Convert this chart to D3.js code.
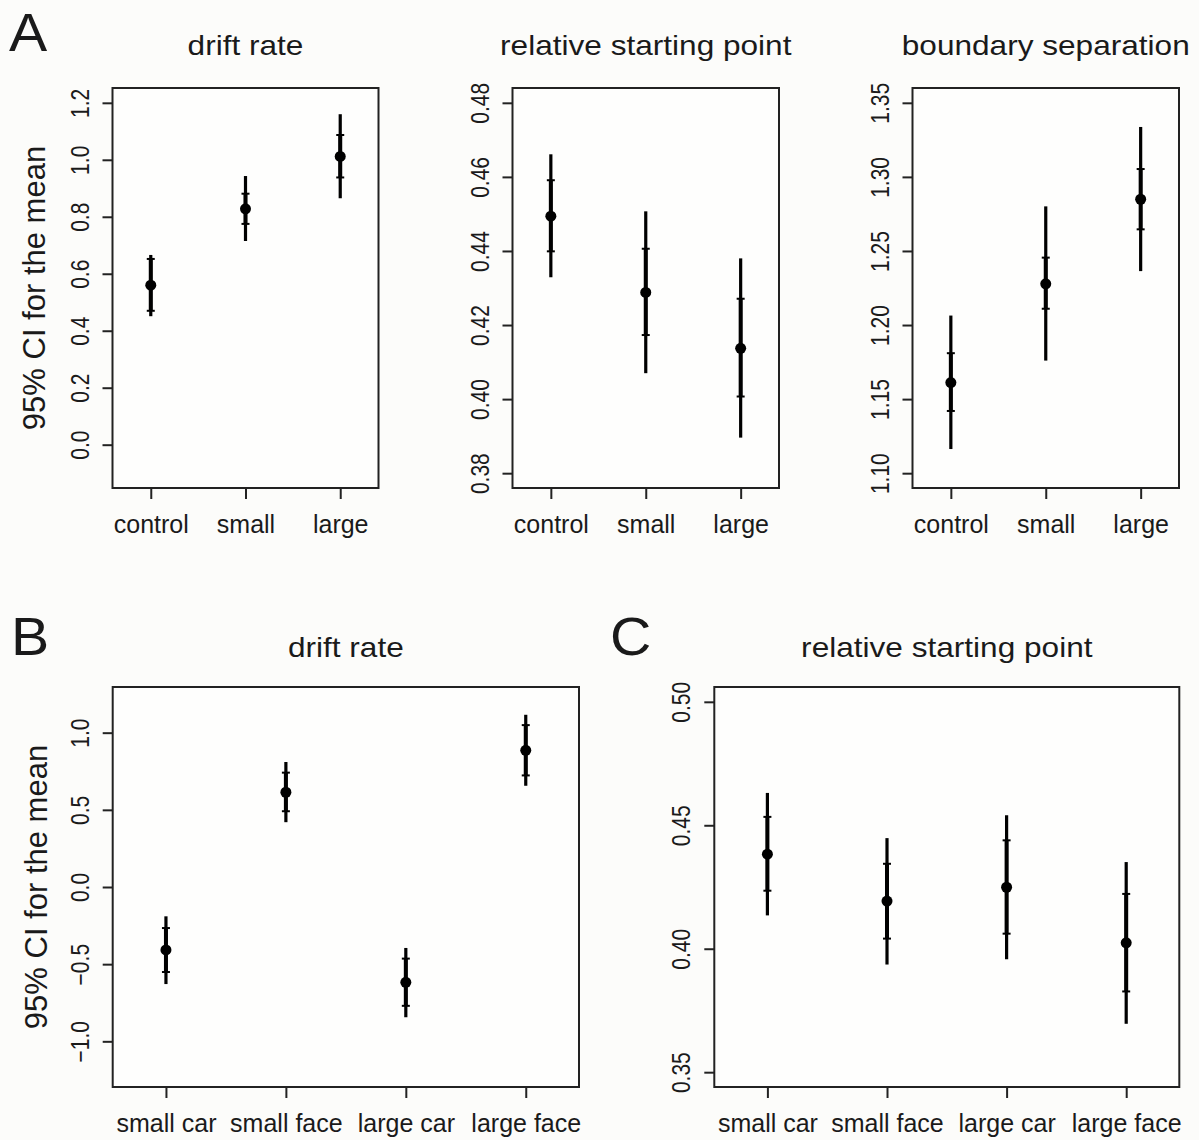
<!DOCTYPE html>
<html>
<head>
<meta charset="utf-8">
<script src="https://cdn.jsdelivr.net/npm/d3@7"></script>
<style>
  body { margin: 0; background: #fcfcfa; }
  text { font-family: "Liberation Sans", Arial, Helvetica, sans-serif; fill: #1a1a1a; }
</style>
</head>
<body>
<script>
const width = 1199;
const height = 1140;

// --- data ---
const sizeConditions = ['control', 'small', 'large'];
const crossConditions = ['small car', 'small face', 'large car', 'large face'];

// A: drift rate
const driftMean = [0.560, 0.828, 1.012];
const driftLo = [0.451, 0.715, 0.865];
const driftHi = [0.666, 0.943, 1.160];
const driftInLo = [0.470, 0.775, 0.938];
const driftInHi = [0.652, 0.881, 1.087];
const driftTicks = [0.0, 0.2, 0.4, 0.6, 0.8, 1.0, 1.2];

// A: relative starting point
const startMean = [0.4494, 0.4288, 0.4137];
const startLo = [0.4329, 0.4070, 0.3896];
const startHi = [0.4661, 0.4507, 0.4380];
const startInLo = [0.4399, 0.4173, 0.4007];
const startInHi = [0.4591, 0.4406, 0.4271];
const startTicks = [0.38, 0.40, 0.42, 0.44, 0.46, 0.48];

// A: boundary separation
const boundMean = [1.1612, 1.2278, 1.2849];
const boundLo = [1.1163, 1.1760, 1.2364];
const boundHi = [1.2064, 1.2801, 1.3337];
const boundInLo = [1.1420, 1.2110, 1.2646];
const boundInHi = [1.1810, 1.2455, 1.3053];
const boundTicks = [1.10, 1.15, 1.20, 1.25, 1.30, 1.35];

// B: drift rate by size x category
const driftBMean = [-0.408, 0.614, -0.618, 0.886];
const driftBLo = [-0.629, 0.420, -0.844, 0.656];
const driftBHi = [-0.190, 0.810, -0.395, 1.116];
const driftBInLo = [-0.551, 0.491, -0.770, 0.723];
const driftBInHi = [-0.266, 0.741, -0.464, 1.049];
const driftBTicks = [-1.0, -0.5, 0.0, 0.5, 1.0];

// C: relative starting point by size x category
const startCMean = [0.4383, 0.4193, 0.4249, 0.4024];
const startCLo = [0.4135, 0.3936, 0.3957, 0.3696];
const startCHi = [0.4631, 0.4448, 0.4541, 0.4351];
const startCInLo = [0.4235, 0.4041, 0.4061, 0.3827];
const startCInHi = [0.4534, 0.4344, 0.4439, 0.4222];
const startCTicks = [0.35, 0.40, 0.45, 0.50];

const svg = d3.select('body')
    .append('svg')
    .attr('width', width)
    .attr('height', height);

svg.append('rect')
    .attr('width', width)
    .attr('height', height)
    .attr('fill', '#fcfcfa');

const fmtMinus = f => v => f(v).replace('-', '\u2212');

function panel(opts) {
    const {x0, x1, y0, y1, xlim, ylim, names, mean, lo, hi, inLo, inHi, ticks, fmt, title, titleY} = opts;
    const x = d3.scaleLinear().domain(xlim).range([x0, x1]);
    const y = d3.scaleLinear().domain(ylim).range([y1, y0]);
    const g = svg.append('g');

    g.append('rect')
        .attr('x', x0).attr('y', y0)
        .attr('width', x1 - x0).attr('height', y1 - y0)
        .attr('fill', '#fefefd')
        .attr('stroke', '#222')
        .attr('stroke-width', 2);

    // y axis
    const ya = g.append('g')
        .attr('transform', `translate(${x0},0)`)
        .call(d3.axisLeft(y).tickValues(ticks).tickSize(10).tickFormat(fmtMinus(d3.format(fmt))));
    ya.select('.domain').remove();
    ya.selectAll('line').attr('stroke', '#222').attr('stroke-width', 2);
    ya.selectAll('text')
        .attr('x', null).attr('dy', null)
        .attr('text-anchor', 'middle')
        .attr('transform', 'translate(-24,0) scale(1.2,1) rotate(-90)')
        .style('font-size', '21px');

    // x axis
    const idx = names.map((d, i) => i + 1);
    const xa = g.append('g')
        .attr('transform', `translate(0,${y1})`)
        .call(d3.axisBottom(x).tickValues(idx).tickSize(11).tickFormat(i => names[i - 1]));
    xa.select('.domain').remove();
    xa.selectAll('line').attr('stroke', '#222').attr('stroke-width', 2);
    xa.selectAll('text')
        .attr('y', 45).attr('dy', null)
        .style('font-size', '25px');

    // error bars
    const bars = g.append('g');
    idx.forEach((k, i) => {
        const cx = x(k);
        bars.append('line')
            .attr('x1', cx).attr('x2', cx)
            .attr('y1', y(lo[i])).attr('y2', y(hi[i]))
            .attr('stroke', '#000').attr('stroke-width', 3.2);
        bars.append('line')
            .attr('x1', cx).attr('x2', cx)
            .attr('y1', y(inLo[i])).attr('y2', y(inHi[i]))
            .attr('stroke', '#000').attr('stroke-width', 4);
        [inLo[i], inHi[i]].forEach(v => {
            bars.append('line')
                .attr('x1', cx - 4).attr('x2', cx + 4)
                .attr('y1', y(v)).attr('y2', y(v))
                .attr('stroke', '#000').attr('stroke-width', 2);
        });
        bars.append('circle')
            .attr('cx', cx).attr('cy', y(mean[i]))
            .attr('r', 5.5)
            .attr('fill', '#000');
    });

    g.append('text')
        .attr('transform', `translate(${(x0 + x1) / 2},${titleY}) scale(1.17,1)`)
        .attr('text-anchor', 'middle')
        .style('font-size', '27px')
        .text(title);
}

const xlimA = [0.596, 3.404];
const xlimB = [0.556, 4.444];

panel({x0: 112.5, x1: 378.5, y0: 88, y1: 488, xlim: xlimA, ylim: [-0.152, 1.252],
    names: sizeConditions, mean: driftMean, lo: driftLo, hi: driftHi, inLo: driftInLo, inHi: driftInHi,
    ticks: driftTicks, fmt: '.1f', title: 'drift rate', titleY: 55});
panel({x0: 512.5, x1: 779, y0: 88, y1: 488, xlim: xlimA, ylim: [0.376, 0.484],
    names: sizeConditions, mean: startMean, lo: startLo, hi: startHi, inLo: startInLo, inHi: startInHi,
    ticks: startTicks, fmt: '.2f', title: 'relative starting point', titleY: 55});
panel({x0: 912.5, x1: 1179, y0: 88, y1: 488, xlim: xlimA, ylim: [1.09, 1.36],
    names: sizeConditions, mean: boundMean, lo: boundLo, hi: boundHi, inLo: boundInLo, inHi: boundInHi,
    ticks: boundTicks, fmt: '.2f', title: 'boundary separation', titleY: 55});
panel({x0: 112.7, x1: 579, y0: 687, y1: 1087, xlim: xlimB, ylim: [-1.296, 1.296],
    names: crossConditions, mean: driftBMean, lo: driftBLo, hi: driftBHi, inLo: driftBInLo, inHi: driftBInHi,
    ticks: driftBTicks, fmt: '.1f', title: 'drift rate', titleY: 657});
panel({x0: 714.3, x1: 1179.3, y0: 687, y1: 1087, xlim: xlimB, ylim: [0.344, 0.506],
    names: crossConditions, mean: startCMean, lo: startCLo, hi: startCHi, inLo: startCInLo, inHi: startCInHi,
    ticks: startCTicks, fmt: '.2f', title: 'relative starting point', titleY: 657});

// y axis titles
svg.append('text')
    .attr('transform', 'translate(45,288) rotate(-90)')
    .attr('text-anchor', 'middle')
    .style('font-size', '31px')
    .text('95% CI for the mean');
svg.append('text')
    .attr('transform', 'translate(47,887) rotate(-90)')
    .attr('text-anchor', 'middle')
    .style('font-size', '31px')
    .text('95% CI for the mean');

// panel letters
[['A', 9, 51], ['B', 11, 655], ['C', 610, 655]].forEach(([t, px, py]) => {
    svg.append('text')
        .attr('transform', `translate(${px},${py}) scale(1.08,1)`)
        .style('font-size', '53px')
        .text(t);
});
</script>
</body>
</html>
